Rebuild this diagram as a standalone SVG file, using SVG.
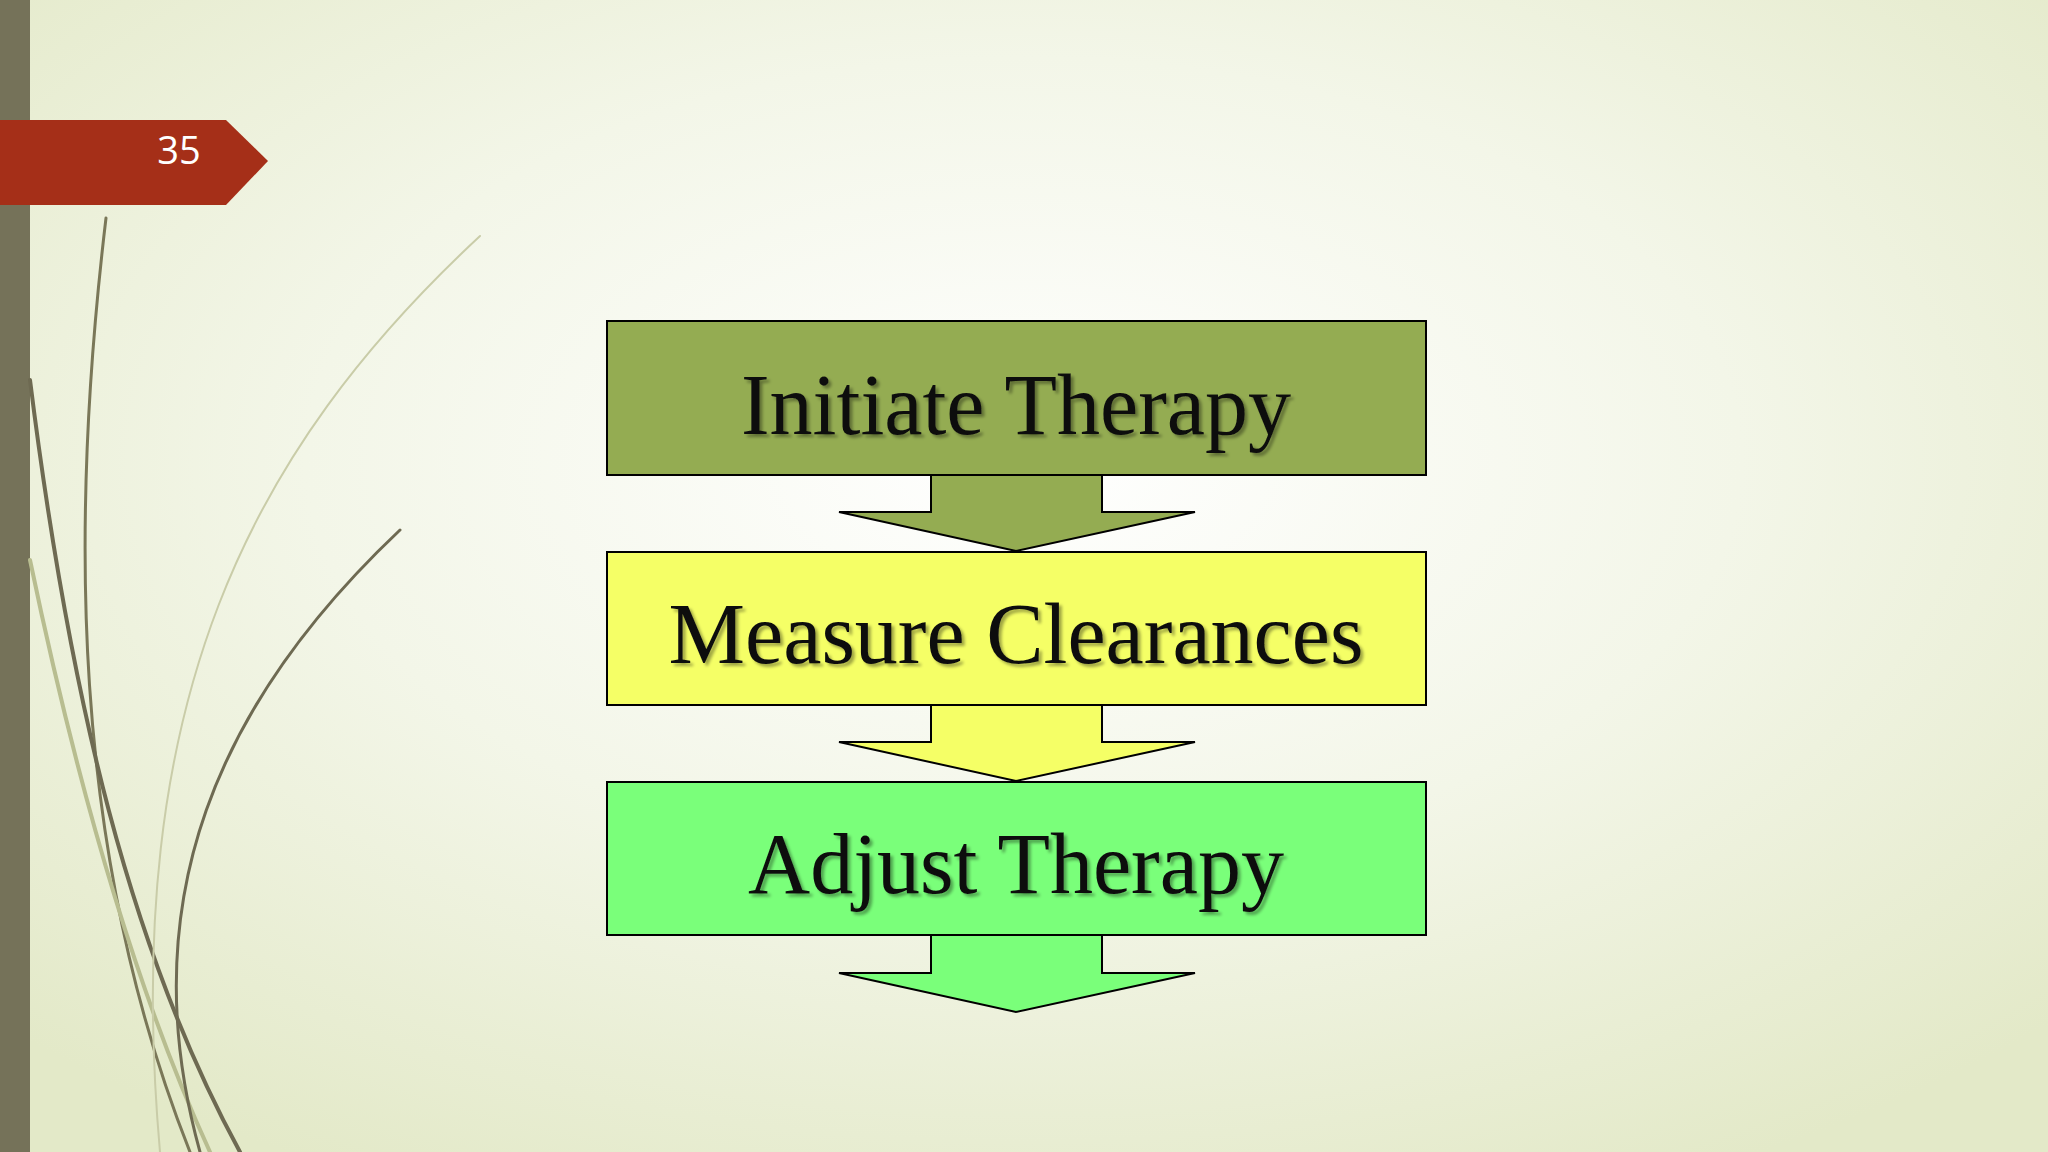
<svg xmlns="http://www.w3.org/2000/svg" width="2048" height="1152" viewBox="0 0 2048 1152">
<defs>
<radialGradient id="bg" cx="0.5" cy="0.4" r="0.7">
<stop offset="0" stop-color="#ffffff"/><stop offset="0.5" stop-color="#f3f6e8"/><stop offset="1" stop-color="#e3e9c8"/>
</radialGradient>
<filter id="sh" x="-5%" y="-20%" width="110%" height="140%"><feDropShadow dx="3" dy="3" stdDeviation="1.5" flood-color="#000" flood-opacity="0.35"/></filter>
</defs>
<style>
.box{stroke:#000;stroke-width:2}
.t{font-family:"Liberation Serif",serif;font-size:86px;fill:#111;text-anchor:middle;filter:url(#sh)}
.c{fill:none;stroke-linecap:round}
</style>
<rect width="2048" height="1152" fill="url(#bg)"/>
<rect x="0" y="0" width="30" height="1152" fill="#757259"/>
<g id="deco">
<path class="c" d="M106 218 C70 520 70 850 190 1152" stroke="#7a7758" stroke-width="3"/>
<path class="c" d="M30 380 C70 700 130 950 240 1152" stroke="#6e6a52" stroke-width="4"/>
<path class="c" d="M30 560 C80 800 140 1000 210 1152" stroke="#b8bd90" stroke-width="4"/>
<path class="c" d="M400 530 C220 700 130 900 200 1152" stroke="#6e6a52" stroke-width="3"/>
<path class="c" d="M480 236 C250 450 120 700 160 1152" stroke="#c9cca8" stroke-width="2"/>
</g>
<g id="tag">
<path d="M0 120 H226 L268 161 L226 205 H0 Z" fill="#a52f18"/>
<text x="179" y="164" font-family="Open Sans, sans-serif" font-size="38" fill="#fff" text-anchor="middle">35</text>
</g>
<g id="connectors">
<path class="box" d="M931 475 V512 H839 L1016 551 L1195 512 H1102 V475 Z" fill="#94ac52"/>
<path class="box" d="M931 705 V742 H839 L1016 781 L1195 742 H1102 V705 Z" fill="#f5ff66"/>
<path class="box" d="M931 935 V973 H839 L1016 1012 L1195 973 H1102 V935 Z" fill="#7aff7a"/>
</g>
<g id="n1"><rect class="box" x="607" y="321" width="819" height="154" fill="#94ac52"/><text class="t" x="1016" y="434">Initiate Therapy</text></g>
<g id="n2"><rect class="box" x="607" y="552" width="819" height="153" fill="#f5ff66"/><text class="t" x="1016" y="663">Measure Clearances</text></g>
<g id="n3"><rect class="box" x="607" y="782" width="819" height="153" fill="#7aff7a"/><text class="t" x="1016" y="893">Adjust Therapy</text></g>
</svg>
